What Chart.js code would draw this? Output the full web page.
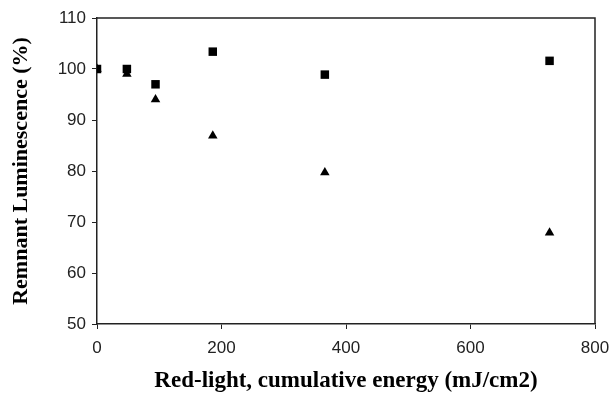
<!DOCTYPE html>
<html>
<head>
<meta charset="utf-8">
<script src="https://cdn.jsdelivr.net/npm/chart.js@4"></script>
<style>
  html, body { margin: 0; padding: 0; background: #fff; }
  #wrap { width: 610px; height: 395px; }
</style>
</head>
<body>
<div id="wrap"><canvas id="chart" width="610" height="395"></canvas></div>
<script>
// energy (mJ/cm2) at each measurement
const energy = [0, 48, 94, 186, 366, 727];
// remnant luminescence (%) for the two series
const squareSeries = [100, 100, 97, 103.4, 98.9, 101.6];
const triangleSeries = [100, 99, 94, 86.9, 79.7, 67.9];

const xTicks = [0, 200, 400, 600, 800];
const yTicks = [50, 60, 70, 80, 90, 100, 110];

const toPoints = (xs, ys) => xs.map((x, i) => ({ x: x, y: ys[i] }));

// top + right frame lines
const frame = {
  id: "frame",
  afterDraw(chart) {
    const a = chart.chartArea;
    const ctx = chart.ctx;
    ctx.save();
    ctx.strokeStyle = "#222";
    ctx.lineWidth = 1.5;
    ctx.beginPath();
    ctx.moveTo(a.left, a.top);
    ctx.lineTo(a.right, a.top);
    ctx.lineTo(a.right, a.bottom);
    ctx.stroke();
    ctx.restore();
  }
};

const tickFont = { family: "'Liberation Sans', Arial, sans-serif", size: 17 };
const serif = "'Liberation Serif', 'Times New Roman', serif";

new Chart(document.getElementById("chart"), {
  type: "scatter",
  data: {
    datasets: [
      {
        label: "triangles",
        data: toPoints(energy, triangleSeries),
        pointStyle: "triangle",
        pointRadius: 5.5,
        backgroundColor: "#000",
        borderColor: "#000",
        borderWidth: 0
      },
      {
        label: "squares",
        data: toPoints(energy, squareSeries),
        pointStyle: "rect",
        pointRadius: 6,
        backgroundColor: "#000",
        borderColor: "#000",
        borderWidth: 0
      }
    ]
  },
  options: {
    responsive: false,
    animation: false,
    layout: { padding: { top: 18, right: 0, left: 4, bottom: 0 } },
    plugins: {
      legend: { display: false },
      tooltip: { enabled: false }
    },
    scales: {
      x: {
        type: "linear",
        min: 0,
        max: 800,
        afterBuildTicks: s => { s.ticks = xTicks.map(v => ({ value: v })); },
        afterFit: s => { s.height = 71; s.paddingRight = 15; },
        grid: { drawOnChartArea: false, drawTicks: true, tickLength: 5, color: "#222" },
        border: { display: true, color: "#222", width: 1.5 },
        ticks: { color: "#222", font: tickFont, padding: 9, maxRotation: 0 },
        title: { display: true, text: "Red-light, cumulative energy (mJ/cm2)", color: "#000",
                 font: { family: serif, size: 23, weight: "bold" }, padding: { top: 4, bottom: 0 } }
      },
      y: {
        min: 50,
        max: 110,
        afterBuildTicks: s => { s.ticks = yTicks.map(v => ({ value: v })); },
        afterFit: s => { s.width = 93; },
        grid: { drawOnChartArea: false, drawTicks: true, tickLength: 5, color: "#222" },
        border: { display: true, color: "#222", width: 1.5 },
        ticks: { color: "#222", font: tickFont, padding: 6 },
        title: { display: true, text: "Remnant Luminescence (%)", color: "#000",
                 font: { family: serif, size: 22, weight: "bold" }, padding: { top: 4, bottom: 4 } }
      }
    }
  },
  plugins: [frame]
});
</script>
</body>
</html>
